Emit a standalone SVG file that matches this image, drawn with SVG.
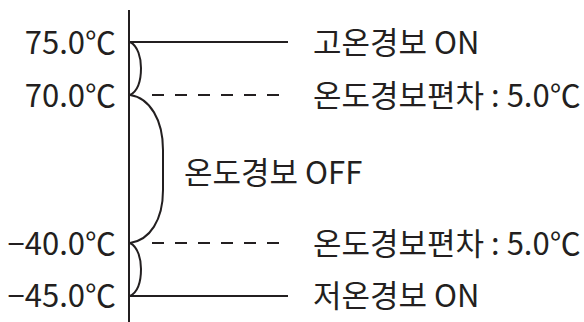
<svg xmlns="http://www.w3.org/2000/svg" width="584" height="322" viewBox="0 0 584 322">
<style>
text{font-family:"Noto Sans CJK KR","Noto Sans",sans-serif;font-size:31px;fill:#231f20}
.l{text-anchor:end}
.ln{stroke:#231f20;stroke-width:2;fill:none}
.d{stroke-dasharray:12 11}
</style>
<rect width="584" height="322" fill="#fff"/>
<g id="connectors">
<line class="ln" x1="129" y1="10" x2="129" y2="322"/>
<line class="ln" x1="129" y1="42" x2="288" y2="42"/>
<line class="ln" x1="129" y1="296" x2="288" y2="296"/>
<line class="ln d" x1="152" y1="95" x2="280" y2="95"/>
<line class="ln d" x1="152" y1="243" x2="280" y2="243"/>
<path class="ln" d="M130,42 C138,46 141,58 141,68 C141,80 138,91 130,95"/>
<path class="ln" d="M130,243 C138,247 141,259 141,269 C141,281 138,292 130,296"/>
<path class="ln" d="M130,95 C150,98 163,120 163,150 L163,190 C163,220 150,240 130,243"/>
</g>
<g id="t75"><text class="l" x="116" y="54">75.0℃</text></g>
<g id="t70"><text class="l" x="116" y="107">70.0℃</text></g>
<g id="tm40"><text class="l" x="116" y="255">−40.0℃</text></g>
<g id="tm45"><text class="l" x="116" y="307">−45.0℃</text></g>
<g id="high"><text x="313" y="54">고온경보 ON</text></g>
<g id="dev1"><text x="313" y="107">온도경보편차 : 5.0℃</text></g>
<g id="off"><text x="184" y="184">온도경보 OFF</text></g>
<g id="dev2"><text x="313" y="255">온도경보편차 : 5.0℃</text></g>
<g id="low"><text x="313" y="307">저온경보 ON</text></g>
</svg>
